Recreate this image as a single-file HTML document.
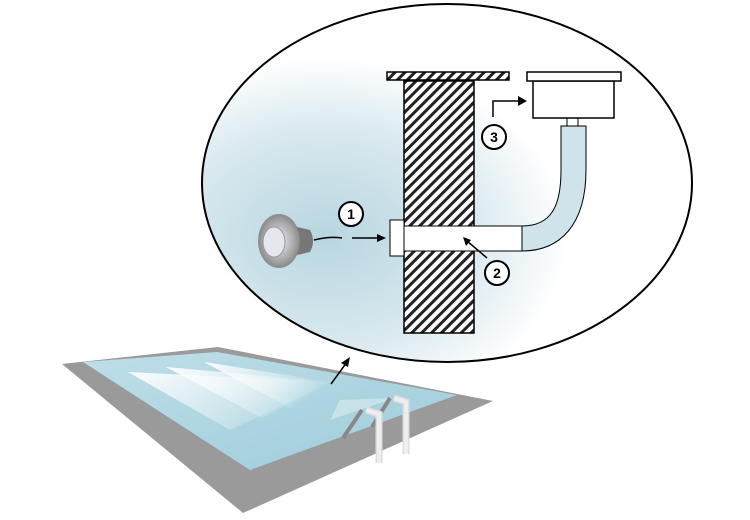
<!DOCTYPE html>
<html><head><meta charset="utf-8"><style>html,body{margin:0;padding:0;background:#fff}svg{display:block}</style></head><body>
<svg width="750" height="520" viewBox="0 0 750 520" xmlns="http://www.w3.org/2000/svg">
<defs>
<pattern id="h" width="7" height="7" patternUnits="userSpaceOnUse" patternTransform="rotate(45)">
<rect width="7" height="7" fill="#fff"/><rect width="3" height="7" fill="#222"/></pattern>
<radialGradient id="glow" cx="0.25" cy="0.65" r="0.5">
<stop offset="0" stop-color="#b8d6e0"/><stop offset="0.6" stop-color="#d9e9ef"/><stop offset="1" stop-color="#fff"/></radialGradient>
<linearGradient id="water" x1="0" y1="0" x2="1" y2="1"><stop offset="0" stop-color="#bfdfe9"/><stop offset="1" stop-color="#9ccbd9"/></linearGradient>
<linearGradient id="beam" x1="0" y1="0" x2="1" y2="0.3"><stop offset="0" stop-color="#fff" stop-opacity="0.95"/><stop offset="1" stop-color="#fff" stop-opacity="0"/></linearGradient>
<radialGradient id="lamp" cx="0.5" cy="0.5" r="0.5"><stop offset="0" stop-color="#eef"/><stop offset="0.7" stop-color="#aaa"/><stop offset="1" stop-color="#888"/></radialGradient>
</defs>
<!-- pool -->
<polygon points="62,364 218,347 493,401 243,513" fill="#9a9a9a"/>
<polygon points="83,362 217,352 457,395 250,470" fill="url(#water)"/>
<polygon points="128,372 332,382 230,430" fill="url(#beam)"/>
<polygon points="166,367 332,382 262,418" fill="url(#beam)"/>
<polygon points="204,362 332,382 290,408" fill="url(#beam)"/>
<polygon points="340,400 395,398 330,420" fill="#fff" opacity="0.35"/>
<!-- ladder -->
<path d="M343,438 L362,410 M372,427 L390,398" fill="none" stroke="#888" stroke-width="4"/>
<path d="M379,463 V414 L366,410 M406,454 V402 L394,398" fill="none" stroke="#ddd" stroke-width="7"/>
<path d="M379,463 V414 L366,410 M406,454 V402 L394,398" fill="none" stroke="#eee" stroke-width="4"/>
<!-- ellipse -->
<ellipse cx="447" cy="183" rx="245" ry="179" fill="url(#glow)" stroke="#000" stroke-width="2"/>
<line x1="331" y1="384" x2="347" y2="362" stroke="#000" stroke-width="1.5"/>
<polygon points="350,357 341,363 348,367" fill="#000"/>
<!-- wall -->
<rect x="387" y="72" width="122" height="8" fill="url(#h)" stroke="#000" stroke-width="1.5"/>
<rect x="404" y="81" width="70" height="252" fill="url(#h)" stroke="#000" stroke-width="1.5"/>
<!-- pipe -->
<path d="M522,226 C552,226 561,205 561,170 V126 H586 V170 C586,225 560,251 522,251 Z" fill="#cfe4ea" stroke="#000" stroke-width="1"/>
<rect x="404" y="226" width="118" height="25" fill="#fff" stroke="#000" stroke-width="1"/>
<rect x="390" y="220" width="14" height="36" fill="#fff" stroke="#000" stroke-width="1"/>
<rect x="567" y="118" width="11" height="8" fill="#fff" stroke="#000" stroke-width="1"/>
<rect x="533" y="81" width="81" height="37" fill="#fff" stroke="#000" stroke-width="1.5"/>
<rect x="527" y="72" width="94" height="9" fill="#fff" stroke="#000" stroke-width="1.5"/>
<!-- lamp -->
<path d="M293,226 L310,230 Q316,241 310,252 L293,256 Z" fill="#777"/>
<ellipse cx="279" cy="241" rx="21" ry="27" fill="url(#lamp)"/>
<ellipse cx="274" cy="242" rx="11" ry="15" fill="#e4e8ee" stroke="#999"/>
<path d="M314,240 Q330,236 342,238" stroke="#000" stroke-width="1.5" fill="none"/>
<line x1="352" y1="238" x2="380" y2="238" stroke="#000" stroke-width="1.5"/>
<polygon points="386,238 377,234 377,242" fill="#000"/>
<line x1="487" y1="258" x2="467" y2="241" stroke="#000" stroke-width="1.5"/>
<polygon points="463,237 466,246 471,240" fill="#000"/>
<path d="M493,117 V101 H520" fill="none" stroke="#000" stroke-width="1.5"/>
<polygon points="527,101 518,96 518,106" fill="#000"/>
<g font-family="Liberation Sans, sans-serif" font-weight="bold" font-size="14" text-anchor="middle">
<circle cx="351" cy="214" r="12" fill="#fff" stroke="#000" stroke-width="2"/><text x="351" y="219">1</text>
<circle cx="497" cy="273" r="12" fill="#fff" stroke="#000" stroke-width="2"/><text x="497" y="278">2</text>
<circle cx="494" cy="137" r="12" fill="#fff" stroke="#000" stroke-width="2"/><text x="494" y="142">3</text>
</g>
</svg>
</body></html>
